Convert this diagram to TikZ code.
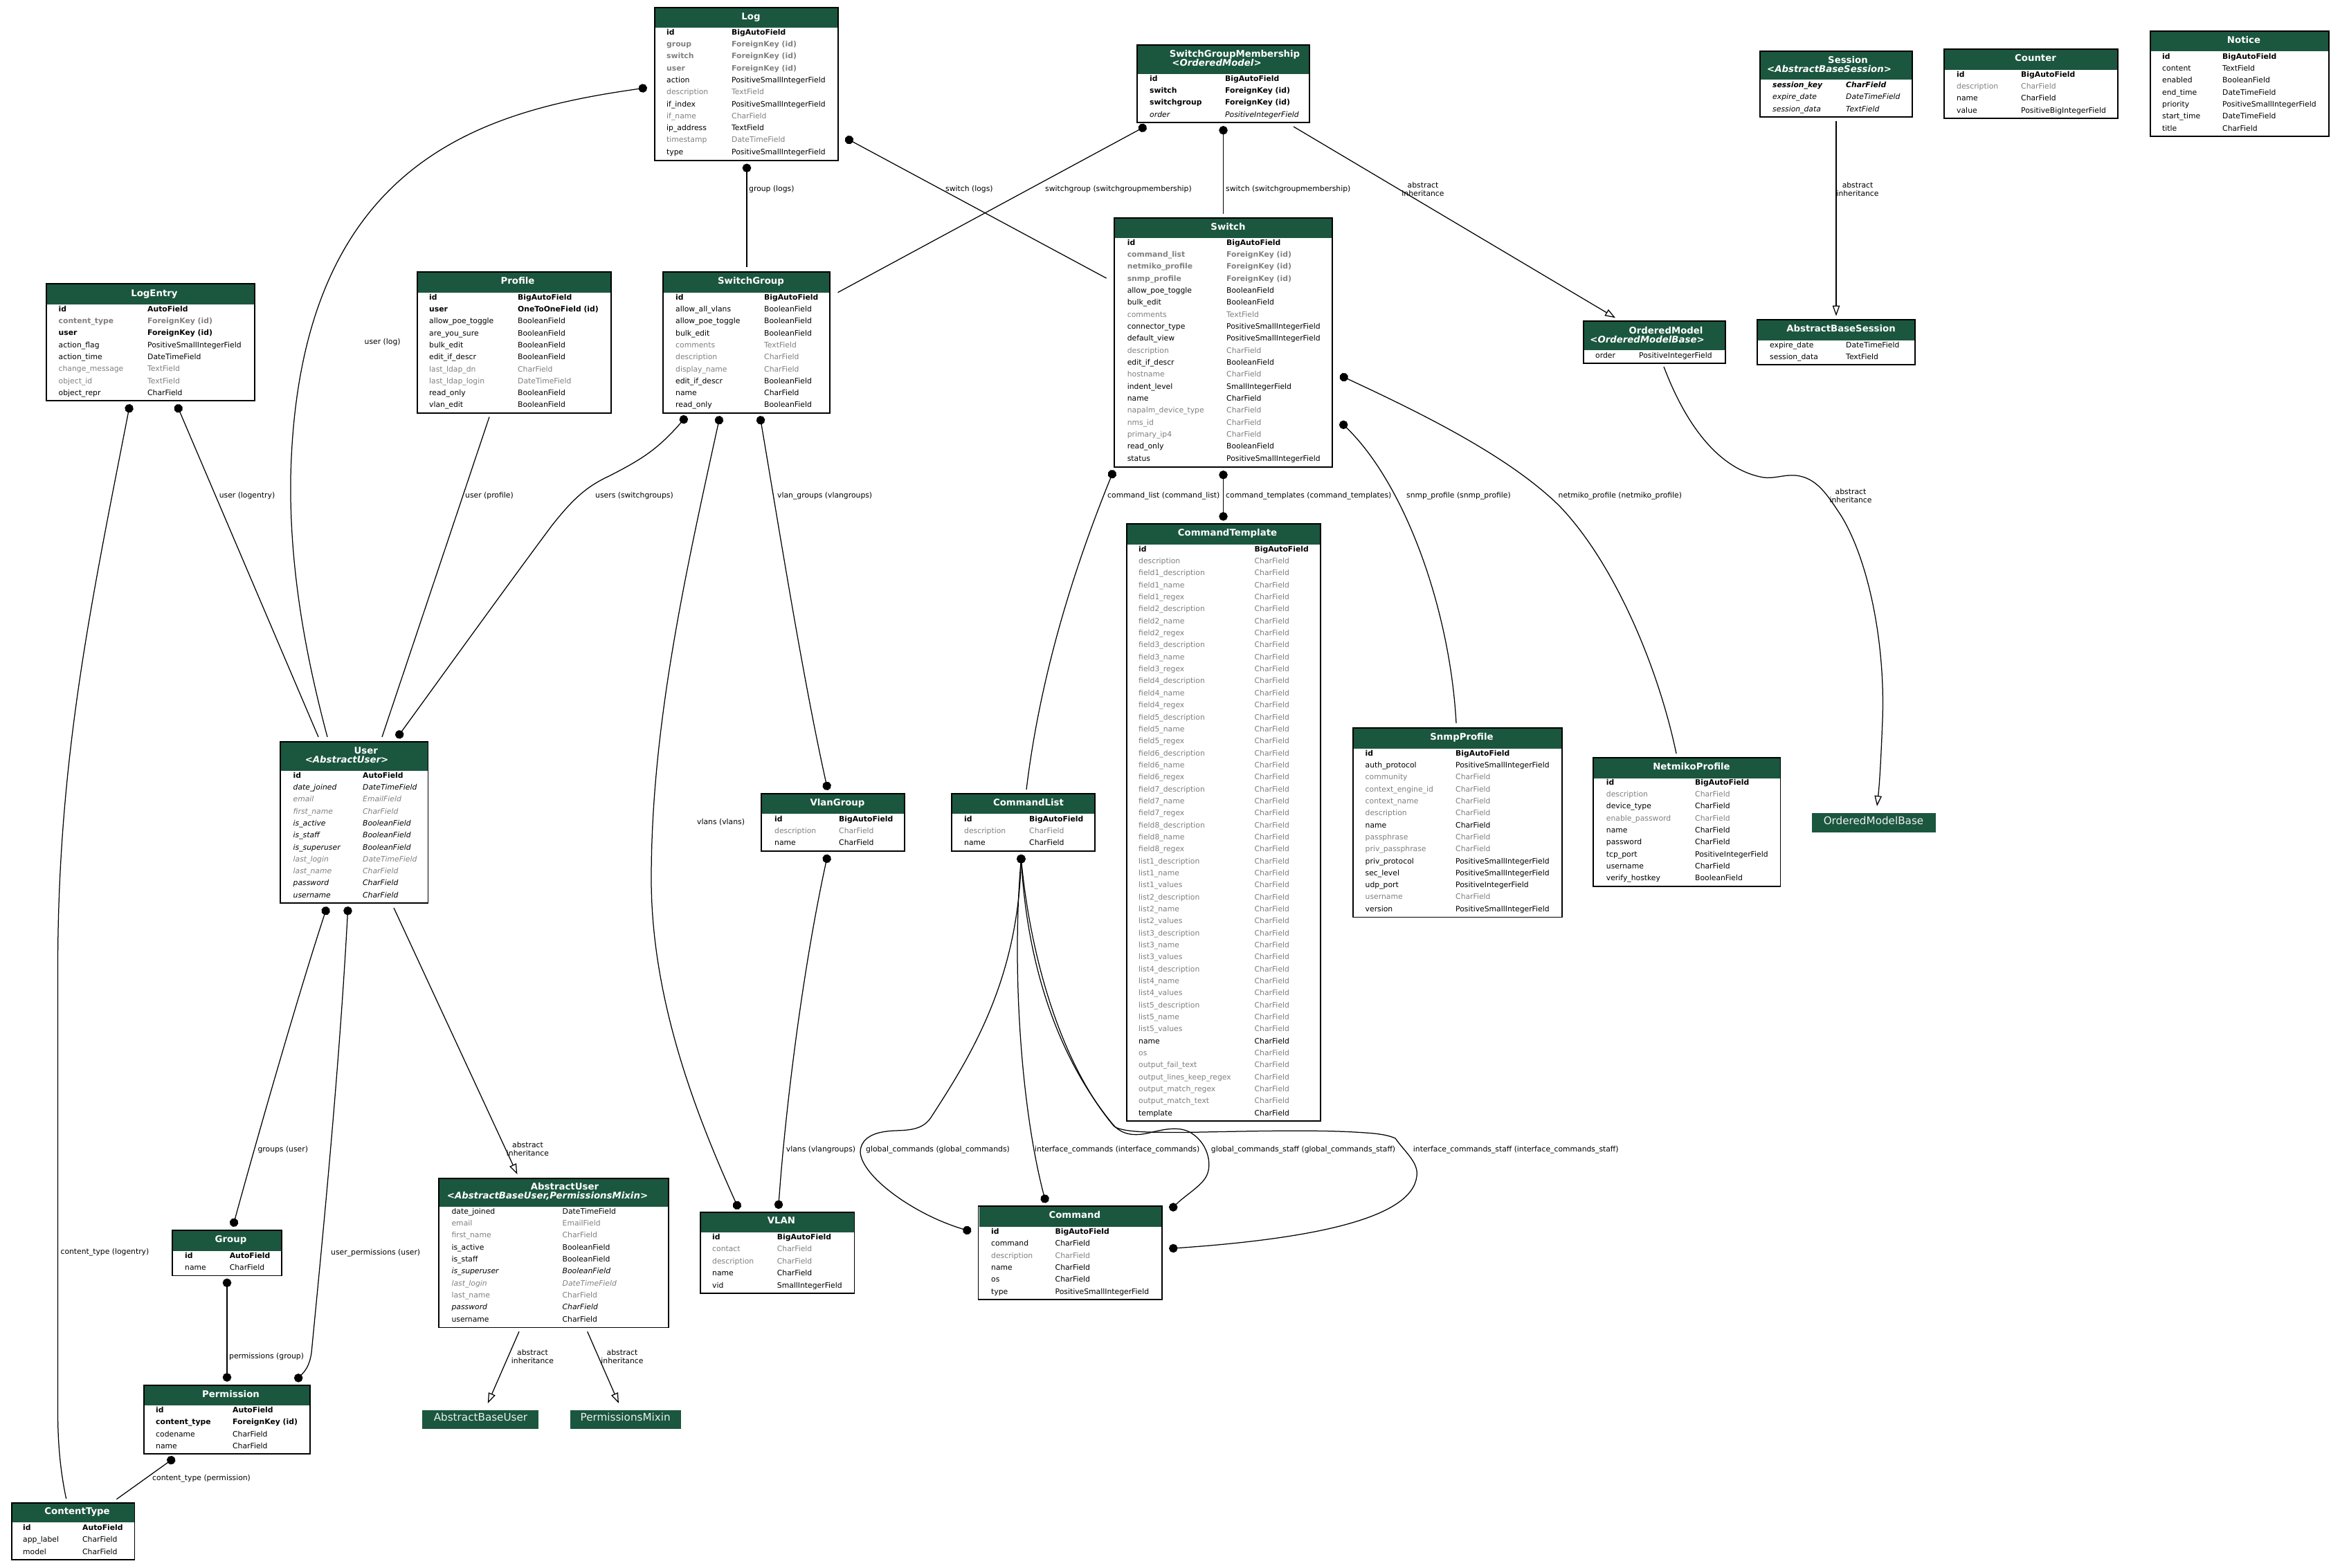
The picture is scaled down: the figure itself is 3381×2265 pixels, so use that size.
\documentclass[tikz,border=0pt]{standalone}
\usepackage{fontspec}
\setmainfont{DejaVu Sans}
\usetikzlibrary{arrows.meta}
\definecolor{hdr}{HTML}{1B563F}
\definecolor{faint}{HTML}{808080}
\tikzset{
  x=1pt,y=-1pt,
  modelbox/.style={draw=black,fill=white,line width=1.8pt,inner sep=0,outer sep=0},
  hdrfill/.style={fill=hdr},
  titletext/.style={text=white,inner sep=0,yshift=-1.5pt,font=\fontsize{13.3}{15}\selectfont\bfseries,anchor=mid},
  titleital/.style={text=white,inner sep=0,yshift=-1.5pt,font=\fontsize{13.3}{15}\selectfont\bfseries\itshape,anchor=mid},
  basebox/.style={fill=hdr,draw=none,inner sep=0,outer sep=0},
  basetext/.style={text=hdr!8,inner sep=0,yshift=-1.5pt,font=\fontsize{15.2}{18}\selectfont,anchor=mid},
  fld/.style={inner sep=0,yshift=-1.5pt,anchor=mid west,font=\fontsize{10.8}{12}\selectfont},
  fr/.style={},
  fg/.style={text=faint},
  fb/.style={font=\fontsize{10.8}{12}\selectfont\bfseries},
  fbg/.style={text=faint,font=\fontsize{10.8}{12}\selectfont\bfseries},
  fi/.style={font=\fontsize{10.8}{12}\selectfont\itshape},
  fig/.style={text=faint,font=\fontsize{10.8}{12}\selectfont\itshape},
  fbi/.style={font=\fontsize{10.8}{12}\selectfont\bfseries\itshape},
  elabel/.style={inner sep=0,yshift=-1.5pt,anchor=mid west,font=\fontsize{10.8}{12}\selectfont},
  inhlabel/.style={inner sep=0,anchor=center,align=center,font=\fontsize{10.8}{12}\selectfont},
  rel/.style={line width=1.25pt,draw=black},
  fk/.style={rel,{Circle[length=12.5pt,width=12.5pt]}-,shorten <=-6pt},
  fkk/.style={rel,{Circle[length=12.5pt,width=12.5pt]}-{Circle[length=12.5pt,width=12.5pt]},shorten <=-6pt,shorten >=-6pt},
  inh/.style={rel,-{Triangle[open,length=15pt,width=10.5pt,fill=white]}},
}
\newcommand\model[9]{%
  \node[modelbox,minimum width={(#4-#2)*1pt},minimum height={(#5-#3)*1pt}] (#1) at ({(#2+#4)/2},{(#3+#5)/2}) {};
  \fill[hdrfill] (#2+1,#3+1) rectangle (#4-1,#6);
  \node[titletext] (#1-title) at (#7,#8) {#9};
}
\newcommand\fields[6]{%
  \foreach[count=\ii] \fs/\fn/\ft in {#6}{
    \node[fld,\fs] (#1-n\ii) at (#2,{#4+(\ii-1)*#5}) {\fn};
    \node[fld,\fs] (#1-t\ii) at (#3,{#4+(\ii-1)*#5}) {\ft};
  }
}
\begin{document}
\begin{tikzpicture}
\useasboundingbox (0,0) rectangle (3381,2265);
\fill[white] (0,0) rectangle (3381,2265);

% ---------- models
\model{log}{946}{11}{1211}{232}{40}{1085}{24}{Log}
\fields{log}{963}{1057}{46}{17.3}{fb/id/BigAutoField,fbg/group/ForeignKey (id),fbg/switch/ForeignKey (id),fbg/user/ForeignKey (id),fr/action/PositiveSmallIntegerField,fg/description/TextField,fr/if\_index/PositiveSmallIntegerField,fg/if\_name/CharField,fr/ip\_address/TextField,fg/timestamp/DateTimeField,fr/type/PositiveSmallIntegerField}

\model{logentry}{67}{410}{368}{579}{440}{223}{424}{LogEntry}
\fields{logentry}{84.5}{213}{446}{17.3}{fb/id/AutoField,fbg/content\_type/ForeignKey (id),fb/user/ForeignKey (id),fr/action\_flag/PositiveSmallIntegerField,fr/action\_time/DateTimeField,fg/change\_message/TextField,fg/object\_id/TextField,fr/object\_repr/CharField}

\model{profile}{603}{393}{883}{597}{423}{748}{406.5}{Profile}
\fields{profile}{620}{748}{429}{17.3}{fb/id/BigAutoField,fb/user/OneToOneField (id),fr/allow\_poe\_toggle/BooleanField,fr/are\_you\_sure/BooleanField,fr/bulk\_edit/BooleanField,fr/edit\_if\_descr/BooleanField,fg/last\_ldap\_dn/CharField,fg/last\_ldap\_login/DateTimeField,fr/read\_only/BooleanField,fr/vlan\_edit/BooleanField}

\model{sg}{958}{393}{1199}{597}{423}{1085}{406.5}{SwitchGroup}
\fields{sg}{976}{1104}{429}{17.3}{fb/id/BigAutoField,fr/allow\_all\_vlans/BooleanField,fr/allow\_poe\_toggle/BooleanField,fr/bulk\_edit/BooleanField,fg/comments/TextField,fg/description/CharField,fg/display\_name/CharField,fr/edit\_if\_descr/BooleanField,fr/name/CharField,fr/read\_only/BooleanField}

\model{sgm}{1643}{65}{1892}{177}{106.5}{1784}{78.5}{SwitchGroupMembership}
\node[titleital] (sgm-title2) at (1758,91) {<OrderedModel>};
\fields{sgm}{1661}{1770}{113}{17.3}{fb/id/BigAutoField,fb/switch/ForeignKey (id),fb/switchgroup/ForeignKey (id),fi/order/PositiveIntegerField}

\model{sw}{1610}{315}{1925}{675}{344}{1774.5}{328}{Switch}
\fields{sw}{1628.6}{1772}{350}{17.33}{fb/id/BigAutoField,fbg/command\_list/ForeignKey (id),fbg/netmiko\_profile/ForeignKey (id),fbg/snmp\_profile/ForeignKey (id),fr/allow\_poe\_toggle/BooleanField,fr/bulk\_edit/BooleanField,fg/comments/TextField,fr/connector\_type/PositiveSmallIntegerField,fr/default\_view/PositiveSmallIntegerField,fg/description/CharField,fr/edit\_if\_descr/BooleanField,fg/hostname/CharField,fr/indent\_level/SmallIntegerField,fr/name/CharField,fg/napalm\_device\_type/CharField,fg/nms\_id/CharField,fg/primary\_ip4/CharField,fr/read\_only/BooleanField,fr/status/PositiveSmallIntegerField}

\model{session}{2543}{74}{2763}{169}{115}{2670}{87}{Session}
\node[titleital] (session-title2) at (2643,100) {<AbstractBaseSession>};
\fields{session}{2561}{2667}{122}{17.4}{fbi/session\_key/CharField,fi/expire\_date/DateTimeField,fi/session\_data/TextField}

\model{counter}{2809}{71}{3060}{171}{101}{2941}{84}{Counter}
\fields{counter}{2827}{2920}{107}{17.3}{fb/id/BigAutoField,fg/description/CharField,fr/name/CharField,fr/value/PositiveBigIntegerField}

\model{notice}{3107}{45}{3365}{197}{74}{3242}{58}{Notice}
\fields{notice}{3124}{3211}{81}{17.33}{fb/id/BigAutoField,fr/content/TextField,fr/enabled/BooleanField,fr/end\_time/DateTimeField,fr/priority/PositiveSmallIntegerField,fr/start\_time/DateTimeField,fr/title/CharField}

\model{abs}{2539}{462}{2767}{527}{491.5}{2660}{475.5}{AbstractBaseSession}
\fields{abs}{2557}{2667}{498}{17}{fr/expire\_date/DateTimeField,fr/session\_data/TextField}

\model{om}{2288}{464}{2493}{525}{506}{2407}{478}{OrderedModel}
\node[titleital] (om-title2) at (2380,491) {<OrderedModelBase>};
\fields{om}{2305}{2368}{513}{17}{fr/order/PositiveIntegerField}

\model{ct}{1628}{757}{1908}{1620}{787}{1773.5}{770.5}{CommandTemplate}
\fields{ct}{1645}{1812.4}{793}{17.34}{fb/id/BigAutoField,fg/description/CharField,fg/field1\_description/CharField,fg/field1\_name/CharField,fg/field1\_regex/CharField,fg/field2\_description/CharField,fg/field2\_name/CharField,fg/field2\_regex/CharField,fg/field3\_description/CharField,fg/field3\_name/CharField,fg/field3\_regex/CharField,fg/field4\_description/CharField,fg/field4\_name/CharField,fg/field4\_regex/CharField,fg/field5\_description/CharField,fg/field5\_name/CharField,fg/field5\_regex/CharField,fg/field6\_description/CharField,fg/field6\_name/CharField,fg/field6\_regex/CharField,fg/field7\_description/CharField,fg/field7\_name/CharField,fg/field7\_regex/CharField,fg/field8\_description/CharField,fg/field8\_name/CharField,fg/field8\_regex/CharField,fg/list1\_description/CharField,fg/list1\_name/CharField,fg/list1\_values/CharField,fg/list2\_description/CharField,fg/list2\_name/CharField,fg/list2\_values/CharField,fg/list3\_description/CharField,fg/list3\_name/CharField,fg/list3\_values/CharField,fg/list4\_description/CharField,fg/list4\_name/CharField,fg/list4\_values/CharField,fg/list5\_description/CharField,fg/list5\_name/CharField,fg/list5\_values/CharField,fr/name/CharField,fg/os/CharField,fg/output\_fail\_text/CharField,fg/output\_lines\_keep\_regex/CharField,fg/output\_match\_regex/CharField,fg/output\_match\_text/CharField,fr/template/CharField}

\model{snmp}{1955}{1052}{2257}{1325.5}{1082}{2112}{1065.5}{SnmpProfile}
\fields{snmp}{1972.5}{2103}{1088}{17.31}{fb/id/BigAutoField,fr/auth\_protocol/PositiveSmallIntegerField,fg/community/CharField,fg/context\_engine\_id/CharField,fg/context\_name/CharField,fg/description/CharField,fr/name/CharField,fg/passphrase/CharField,fg/priv\_passphrase/CharField,fr/priv\_protocol/PositiveSmallIntegerField,fr/sec\_level/PositiveSmallIntegerField,fr/udp\_port/PositiveIntegerField,fg/username/CharField,fr/version/PositiveSmallIntegerField}

\model{net}{2302}{1095}{2572.5}{1281}{1125}{2444}{1108.5}{NetmikoProfile}
\fields{net}{2320.7}{2449}{1130}{17.33}{fb/id/BigAutoField,fg/description/CharField,fr/device\_type/CharField,fg/enable\_password/CharField,fr/name/CharField,fr/password/CharField,fr/tcp\_port/PositiveIntegerField,fr/username/CharField,fr/verify\_hostkey/BooleanField}

\model{user}{405}{1072}{618.5}{1305}{1113.5}{528.7}{1085}{User}
\node[titleital] (user-title2) at (501,1098) {<AbstractUser>};
\fields{user}{423.5}{524}{1120}{17.3}{fb/id/AutoField,fi/date\_joined/DateTimeField,fig/email/EmailField,fig/first\_name/CharField,fi/is\_active/BooleanField,fi/is\_staff/BooleanField,fi/is\_superuser/BooleanField,fig/last\_login/DateTimeField,fig/last\_name/CharField,fi/password/CharField,fi/username/CharField}

\model{group}{249}{1778}{407}{1843.5}{1808}{333.5}{1791.6}{Group}
\fields{group}{267}{331.6}{1814}{17}{fb/id/AutoField,fr/name/CharField}

\model{perm}{208}{2002}{448}{2101}{2031}{333.5}{2015}{Permission}
\fields{perm}{225}{336}{2037}{17.4}{fb/id/AutoField,fb/content\_type/ForeignKey (id),fr/codename/CharField,fr/name/CharField}

\model{ctype}{17}{2172}{194.5}{2254}{2200}{111.6}{2184.5}{ContentType}
\fields{ctype}{33}{119}{2207}{17.5}{fb/id/AutoField,fr/app\_label/CharField,fr/model/CharField}

\model{au}{634}{1703}{966}{1918.5}{1743.5}{816}{1715.6}{AbstractUser}
\node[titleital] (au-title2) at (791,1728) {<AbstractBaseUser,PermissionsMixin>};
\fields{au}{652.4}{812.5}{1750}{17.33}{fr/date\_joined/DateTimeField,fg/email/EmailField,fg/first\_name/CharField,fr/is\_active/BooleanField,fr/is\_staff/BooleanField,fi/is\_superuser/BooleanField,fig/last\_login/DateTimeField,fg/last\_name/CharField,fi/password/CharField,fr/username/CharField}

\model{vlan}{1012}{1752}{1234.5}{1869}{1781}{1129}{1764.7}{VLAN}
\fields{vlan}{1029}{1122.7}{1787}{17.5}{fb/id/BigAutoField,fg/contact/CharField,fg/description/CharField,fr/name/CharField,fr/vid/SmallIntegerField}

\model{cmd}{1413.5}{1743}{1679}{1878}{1773}{1552.8}{1756.7}{Command}
\fields{cmd}{1432}{1524.5}{1779}{17.4}{fb/id/BigAutoField,fr/command/CharField,fg/description/CharField,fr/name/CharField,fr/os/CharField,fr/type/PositiveSmallIntegerField}

\model{cl}{1375}{1147}{1582}{1230}{1176}{1486}{1160}{CommandList}
\fields{cl}{1393}{1487}{1183}{17}{fb/id/BigAutoField,fg/description/CharField,fr/name/CharField}

\model{vg}{1100}{1147}{1307}{1230}{1176}{1210}{1160.7}{VlanGroup}
\fields{vg}{1119}{1212}{1183}{17}{fb/id/BigAutoField,fg/description/CharField,fr/name/CharField}

% ---------- plain base classes
\node[basebox,minimum width=179pt,minimum height=28pt] (omb) at (2707.5,1189) {};
\node[basetext] (omb-title) at (2707,1187) {OrderedModelBase};
\node[basebox,minimum width=168pt,minimum height=27pt] (abu) at (694,2051.5) {};
\node[basetext] (abu-title) at (694.5,2049.6) {AbstractBaseUser};
\node[basebox,minimum width=160pt,minimum height=27pt] (pmx) at (904,2051.5) {};
\node[basetext] (pmx-title) at (903.7,2049.6) {PermissionsMixin};

% ---------- connectors
\draw[fk] ([shift={(-17,116.5)}]log.north west) .. controls (700,160) and (430,230) .. (420,690) .. controls (418,830) and (445,960) .. ([shift={(68,-7)}]user.north west);
\draw[fk] ([shift={(133,231.5)}]log.north west) -- ([shift={(121,-7)}]sg.north west);
\draw[fk] ([shift={(119.6,180)}]logentry.north west) .. controls (130,880) and (83.5,1100) .. (83.5,1400) -- (83.5,2040) .. controls (83.5,2090) and (88,2130) .. ([shift={(78.7,-6)}]ctype.north west);
\draw[fk] ([shift={(190.6,180)}]logentry.north west) -- ([shift={(55,-7)}]user.north west);
\draw[rel] ([shift={(104,209.5)}]profile.north west) -- ([shift={(147,-7)}]user.north west);
\draw[fkk] ([shift={(30,213)}]sg.north west) .. controls (950,650) and (925,665) .. (880,688) .. controls (850,702) and (830,718) .. (797,760) .. controls (730,850) and (640,975) .. ([shift={(172,-10.4)}]user.north west);
\draw[fkk] ([shift={(81,214)}]sg.north west) .. controls (990,830) and (941,1050) .. (941,1270) .. controls (941,1450) and (1010,1620) .. ([shift={(53,-10)}]vlan.north west);
\draw[fkk] ([shift={(141,214)}]sg.north west) .. controls (1125,760) and (1160,980) .. ([shift={(94.7,-11)}]vg.north west);
\draw[fkk] ([shift={(94.7,93.7)}]vg.north west) .. controls (1160,1400) and (1135,1600) .. ([shift={(113,-11)}]vlan.north west);
\draw[fk] ([shift={(280.7,191)}]log.north west) -- ([shift={(-11.5,87)}]sw.north west);
\draw[fk] ([shift={(8,119.7)}]sgm.north west) -- ([shift={(252.5,29.7)}]sg.north west);
\draw[fk] ([shift={(124.5,123)}]sgm.north west) -- ([shift={(157.5,-6)}]sw.north west);
\draw[inh] ([shift={(226,118)}]sgm.north west) -- ([shift={(46,-4.7)}]om.north west);
\draw[fk] ([shift={(-3,370)}]sw.north west) .. controls (1540,850) and (1500,1000) .. ([shift={(108,-6)}]cl.north west);
\draw[fkk] ([shift={(157.5,371)}]sw.north west) -- ([shift={(139.5,-10.5)}]ct.north west);
\draw[fk] ([shift={(331,298.7)}]sw.north west) .. controls (2030,700) and (2095,880) .. ([shift={(149,-7)}]snmp.north west);
\draw[fk] ([shift={(331.5,230)}]sw.north west) .. controls (2060,600) and (2180,660) .. (2252,730) .. controls (2330,810) and (2395,960) .. ([shift={(120,-6)}]net.north west);
\draw[inh] ([shift={(110,100.5)}]session.north west) -- ([shift={(114,-5.4)}]abs.north west);
\draw[inh] ([shift={(116,66)}]om.north west) .. controls (2440,625) and (2490,680) .. (2548,690) .. controls (2565,692) and (2575,686) .. (2594,687) .. controls (2625,690) and (2640,715) .. (2660,745) .. controls (2700,810) and (2724,930) .. (2720,1040) .. controls (2718,1090) and (2716,1130) .. ([shift={(94,-10)}]omb.north west);
\draw[inh] ([shift={(164,240)}]user.north west) -- ([shift={(113.4,-6)}]au.north west);
\draw[inh] ([shift={(116,221.3)}]au.north west) -- ([shift={(94.8,-10)}]abu.north west);
\draw[inh] ([shift={(214.7,221.3)}]au.north west) -- ([shift={(70,-10)}]pmx.north west);
\draw[fkk] ([shift={(65.7,244)}]user.north west) .. controls (430,1440) and (370,1650) .. ([shift={(89,-11)}]group.north west);
\draw[fkk] ([shift={(97.5,244)}]user.north west) .. controls (490,1550) and (465,1800) .. (450,1955) .. controls (447,1975) and (440,1982) .. ([shift={(223,-10.5)}]perm.north west);
\draw[fkk] ([shift={(79,75.6)}]group.north west) -- ([shift={(120,-11.3)}]perm.north west);
\draw[fk] ([shift={(39.4,108)}]perm.north west) -- ([shift={(151.4,-5.4)}]ctype.north west);
\draw[fkk] ([shift={(100.4,94)}]cl.north west) .. controls (1470,1420) and (1400,1530) .. (1345,1615) .. controls (1330,1638) and (1300,1632) .. (1281,1635) .. controls (1255,1638) and (1243,1650) .. (1243,1665) .. controls (1245,1700) and (1320,1755) .. ([shift={(-16,35)}]cmd.north west);
\draw[fkk] ([shift={(100.4,94)}]cl.north west) .. controls (1462,1400) and (1475,1600) .. ([shift={(96.2,-10.4)}]cmd.north west);
\draw[fkk] ([shift={(100.4,94)}]cl.north west) .. controls (1485,1400) and (1530,1530) .. (1608,1625) .. controls (1625,1645) and (1650,1640) .. (1665,1636) .. controls (1690,1630) and (1710,1628) .. (1725,1640) .. controls (1745,1655) and (1750,1680) .. (1745,1695) .. controls (1740,1712) and (1715,1725) .. ([shift={(281.5,1.7)}]cmd.north west);
\draw[fkk] ([shift={(100.4,94)}]cl.north west) .. controls (1490,1390) and (1535,1540) .. (1610,1628) .. controls (1625,1638) and (1680,1636) .. (1710,1636.5) .. controls (1800,1635) and (1900,1632) .. (1968,1636.7) .. controls (1990,1638) and (2005,1640) .. (2016,1645) .. controls (2030,1665) and (2050,1680) .. (2047,1700) .. controls (2040,1760) and (1900,1790) .. ([shift={(281.5,61)}]cmd.north west);

% ---------- connector labels
\node[elabel] (l-userlog) at (526.5,493) {user (log)};
\node[elabel] (l-grouplogs) at (1082,272.5) {group (logs)};
\node[elabel] (l-ctlog) at (87.4,1808.6) {content\_type (logentry)};
\node[elabel] (l-userle) at (316.6,715) {user (logentry)};
\node[elabel] (l-userprof) at (672,715) {user (profile)};
\node[elabel] (l-usersg) at (860,715) {users (switchgroups)};
\node[elabel] (l-vlansv) at (1007,1187) {vlans (vlans)};
\node[elabel] (l-vgr) at (1123,715) {vlan\_groups (vlangroups)};
\node[elabel] (l-vvg) at (1135.7,1660) {vlans (vlangroups)};
\node[elabel] (l-swlogs) at (1366,272) {switch (logs)};
\node[elabel] (l-sgsgm) at (1510,272) {switchgroup (switchgroupmembership)};
\node[elabel] (l-swsgm) at (1771,272) {switch (switchgroupmembership)};
\node[elabel] (l-cl) at (1600,715) {command\_list (command\_list)};
\node[elabel] (l-ct) at (1771,715) {command\_templates (command\_templates)};
\node[elabel] (l-snmp) at (2032,715) {snmp\_profile (snmp\_profile)};
\node[elabel] (l-net) at (2251.5,715) {netmiko\_profile (netmiko\_profile)};
\node[elabel] (l-grp) at (372.4,1660) {groups (user)};
\node[elabel] (l-up) at (478,1809) {user\_permissions (user)};
\node[elabel] (l-pg) at (331,1959) {permissions (group)};
\node[elabel] (l-ctp) at (220,2135) {content\_type (permission)};
\node[elabel] (l-gc) at (1251,1660) {global\_commands (global\_commands)};
\node[elabel] (l-ic) at (1495,1660) {interface\_commands (interface\_commands)};
\node[elabel] (l-gcs) at (1749.7,1660) {global\_commands\_staff (global\_commands\_staff)};
\node[elabel] (l-ics) at (2041.7,1660) {interface\_commands\_staff (interface\_commands\_staff)};
\node[inhlabel] (l-i1) at (2056,273) {abstract\\inheritance};
\node[inhlabel] (l-i2) at (2684,273) {abstract\\inheritance};
\node[inhlabel] (l-i3) at (2674,716) {abstract\\inheritance};
\node[inhlabel] (l-i4) at (762.5,1660.5) {abstract\\inheritance};
\node[inhlabel] (l-i5) at (769.5,1960) {abstract\\inheritance};
\node[inhlabel] (l-i6) at (899,1960) {abstract\\inheritance};
\end{tikzpicture}
\end{document}
